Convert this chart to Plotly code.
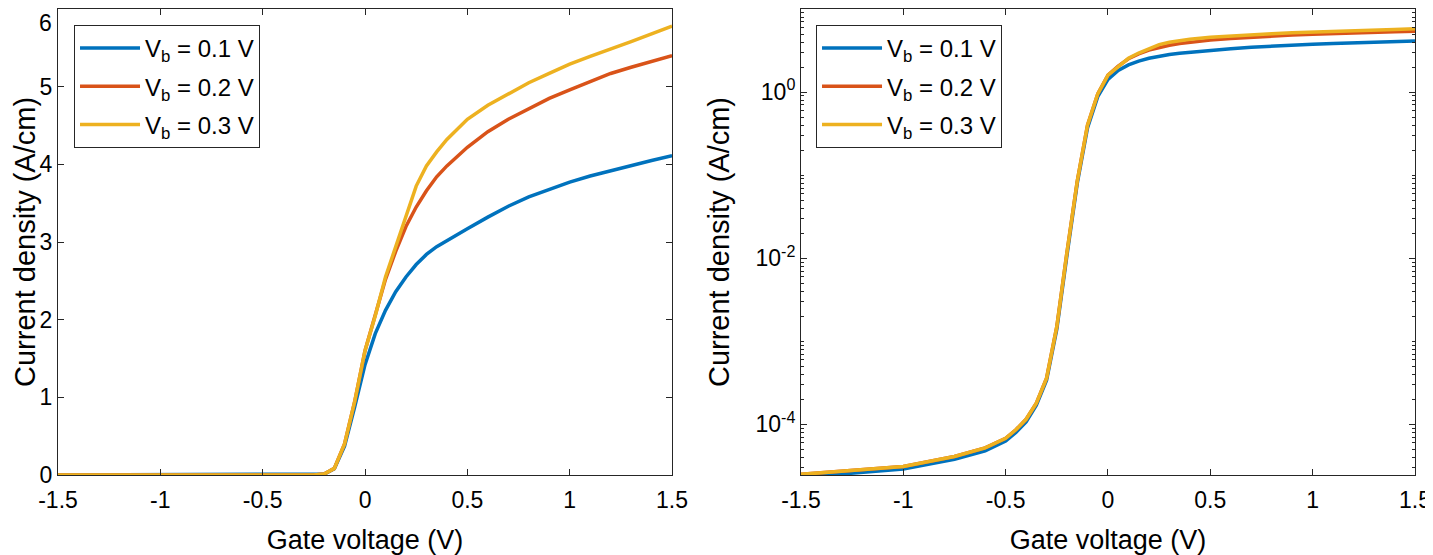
import plotly.graph_objects as go

# gate voltage (V)
vg = [-1.5, -1.25, -1.0, -0.75, -0.6, -0.5, -0.45, -0.4, -0.35, -0.3, -0.25, -0.2, -0.15, -0.1, -0.05,
      0.0, 0.05, 0.1, 0.15, 0.2, 0.25, 0.3, 0.35, 0.4, 0.5, 0.6, 0.7, 0.8, 0.9, 1.0, 1.1, 1.2, 1.3, 1.4, 1.5]

# current density (A/cm) for each bias
j_01 = [2.3e-5, 2.6e-5, 2.9e-5, 3.8e-5, 4.8e-5, 6.3e-5, 8.0e-5, 1.07e-4, 1.7e-4, 3.4e-4, 1.4e-3, 0.011, 0.08, 0.37, 0.88,
        1.42, 1.82, 2.12, 2.36, 2.55, 2.71, 2.84, 2.94, 3.02, 3.17, 3.32, 3.46, 3.58, 3.68, 3.77, 3.85, 3.92, 3.99, 4.05, 4.11]
j_02 = [2.5e-5, 2.8e-5, 3.1e-5, 4.1e-5, 5.2e-5, 6.8e-5, 8.6e-5, 1.15e-4, 1.8e-4, 3.6e-4, 1.5e-3, 0.012, 0.085, 0.40, 0.95,
        1.6, 2.05, 2.52, 2.88, 3.2, 3.45, 3.66, 3.84, 3.98, 4.22, 4.42, 4.58, 4.72, 4.85, 4.96, 5.07, 5.17, 5.25, 5.33, 5.40]
j_03 = [2.5e-5, 2.8e-5, 3.1e-5, 4.1e-5, 5.2e-5, 6.8e-5, 8.6e-5, 1.15e-4, 1.8e-4, 3.6e-4, 1.5e-3, 0.012, 0.085, 0.40, 0.95,
        1.6, 2.05, 2.55, 2.95, 3.35, 3.72, 3.98, 4.16, 4.32, 4.58, 4.76, 4.90, 5.05, 5.17, 5.29, 5.39, 5.48, 5.58, 5.68, 5.78]

names = ['V<sub>b</sub> = 0.1 V', 'V<sub>b</sub> = 0.2 V', 'V<sub>b</sub> = 0.3 V']
colors = ['#0072BD', '#D95319', '#EDB120']

x_ticks = [-1.5, -1, -0.5, 0, 0.5, 1, 1.5]
x_labels = ['-1.5', '-1', '-0.5', '0', '0.5', '1', '1.5']
y_top_label = '6'
y_title = 'Current density (A/cm)'
log_ticks = [1e-4, 1e-2, 1]
log_labels = ['10<sup>-4</sup>', '10<sup>-2</sup>', '10<sup>0</sup>']
log_minor = [k * 10.0 ** e for e in range(-5, 1) for k in range(1, 10)
             if k * 10.0 ** e not in log_ticks]

fig = go.Figure()
# left panel (linear) and right panel (log), same data
for i, (j, name, c) in enumerate(zip([j_01, j_02, j_03], names, colors)):
    fig.add_trace(go.Scatter(x=vg, y=j, name=name, mode='lines', line=dict(color=c, width=3.5),
                             xaxis='x', yaxis='y', legend='legend', legendgroup='a%d' % i))
for i, (j, name, c) in enumerate(zip([j_01, j_02, j_03], names, colors)):
    fig.add_trace(go.Scatter(x=vg, y=j, name=name, mode='lines', line=dict(color=c, width=3.5),
                             xaxis='x2', yaxis='y2', legend='legend2', legendgroup='b%d' % i))

axcol = '#262626'
font = dict(family='Liberation Sans, Arial, sans-serif', size=23, color='black')
xtitle_font = dict(font, size=27)
ytitle_font = dict(font, size=29)
common = dict(showline=True, linecolor=axcol, linewidth=1, mirror='ticks', ticks='inside',
              ticklen=6, tickcolor=axcol, showgrid=False, zeroline=False,
              tickfont=font, automargin=False)

xcommon = dict(common, range=[-1.5, 1.5], tickvals=x_ticks, ticktext=x_labels, ticklabelstandoff=4,
               title=dict(text='Gate voltage (V)', font=xtitle_font, standoff=20))

leg = dict(bgcolor='white', bordercolor=axcol, borderwidth=1, font=dict(font, size=24),
           xanchor='left', yanchor='top', tracegroupgap=4, itemwidth=60)

# page body adds an 8px offset, so the figure is 8px smaller on each axis
fig.update_layout(
    width=1425, height=547,
    margin=dict(l=50, r=18, t=1, b=80),
    plot_bgcolor='white', paper_bgcolor='white',
    font=font,
    xaxis=dict(xcommon, domain=[0, 0.4525], anchor='y'),
    yaxis=dict(common, range=[0, 6], dtick=1, anchor='x'),
    xaxis2=dict(xcommon, domain=[0.5475, 1.0], anchor='y2'),
    yaxis2=dict(common, type='log', range=[-4.61, 1.0], anchor='x2',
                tickvals=log_ticks, ticktext=log_labels,
                minor=dict(tickmode='array', tickvals=log_minor, ticks='inside', ticklen=3,
                           tickcolor=axcol, showgrid=False),
                title=dict(text=y_title, font=ytitle_font, standoff=17)),
    legend=dict(leg, x=0.0118, y=0.9657),
    legend2=dict(leg, x=0.5586, y=0.9657),
)

# left y title sits close to the page edge, placed as rotated text
fig.add_annotation(text=y_title, textangle=-90, xref='paper', yref='paper', x=0, y=0.5,
                   xanchor='center', yanchor='middle', xshift=-33, showarrow=False, font=ytitle_font)
# top tick label of the linear axis sits at the page edge
fig.add_annotation(text=y_top_label, xref='paper', yref='paper', x=0, y=1,
                   xanchor='right', yanchor='top', xshift=-4, yshift=1, showarrow=False, font=font)

fig.write_html("out.html")
